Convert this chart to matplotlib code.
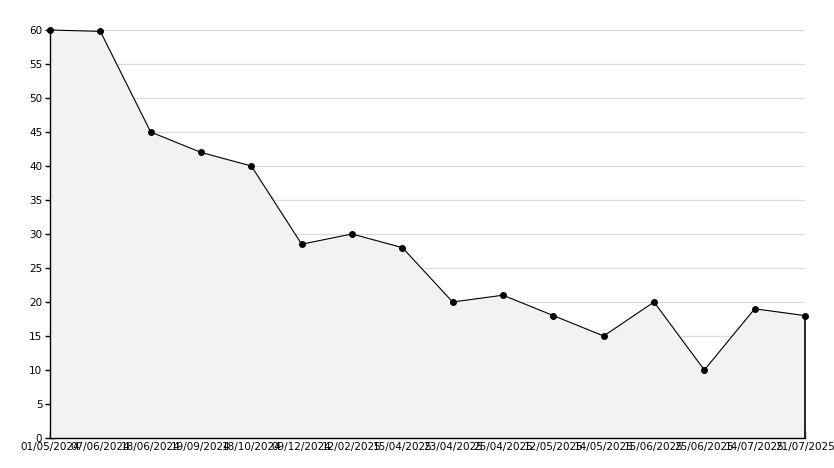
import numpy as np
import matplotlib
matplotlib.use("Agg")
import matplotlib.pyplot as plt
from matplotlib.ticker import MultipleLocator

dates = ["01/05/2024", "07/06/2024", "18/06/2024", "19/09/2024", "18/10/2024",
         "09/12/2024", "12/02/2025", "15/04/2025", "23/04/2025", "25/04/2025",
         "12/05/2025", "14/05/2025", "15/06/2025", "25/06/2025", "14/07/2025",
         "21/07/2025"]
values = [60, 59.8, 45, 42, 40, 28.5, 30, 28, 20, 21, 18, 15, 20, 10, 19, 18]

x = np.arange(len(values))

fig = plt.figure(figsize=(8.34, 4.68), dpi=100)
ax = fig.add_axes([50/834, 30/468, 755/834, 408/468])

ax.fill_between(x, values, 0, color="#f2f2f2", zorder=1)
ax.plot([x[-1], x[-1]], [0, values[-1]], color="black", lw=1.2, zorder=2,
        clip_on=False)
ax.plot(x, values, color="black", lw=0.8, marker="o", ms=4, zorder=3,
        clip_on=False)

ax.set_xlim(0, len(values) - 1)
ax.set_ylim(0, 60)
ax.yaxis.set_major_locator(MultipleLocator(5))
ax.yaxis.set_minor_locator(MultipleLocator(1))
ax.set_xticks(x)
ax.set_xticklabels(dates)

ax.grid(axis="y", color="#d9d9d9", lw=0.8, zorder=0)
ax.set_axisbelow(True)
for s in ["top", "right"]:
    ax.spines[s].set_visible(False)
ax.spines["left"].set_linewidth(1.0)
ax.spines["bottom"].set_linewidth(1.0)

ax.tick_params(axis="y", which="major", direction="inout", length=7, width=1,
               labelsize=7.5, pad=2)
ax.tick_params(axis="y", which="minor", direction="in", length=3, width=0.8)
ax.tick_params(axis="x", direction="in", length=5, width=1, labelsize=7.5, pad=3)

plt.savefig("out.png", dpi=100)
